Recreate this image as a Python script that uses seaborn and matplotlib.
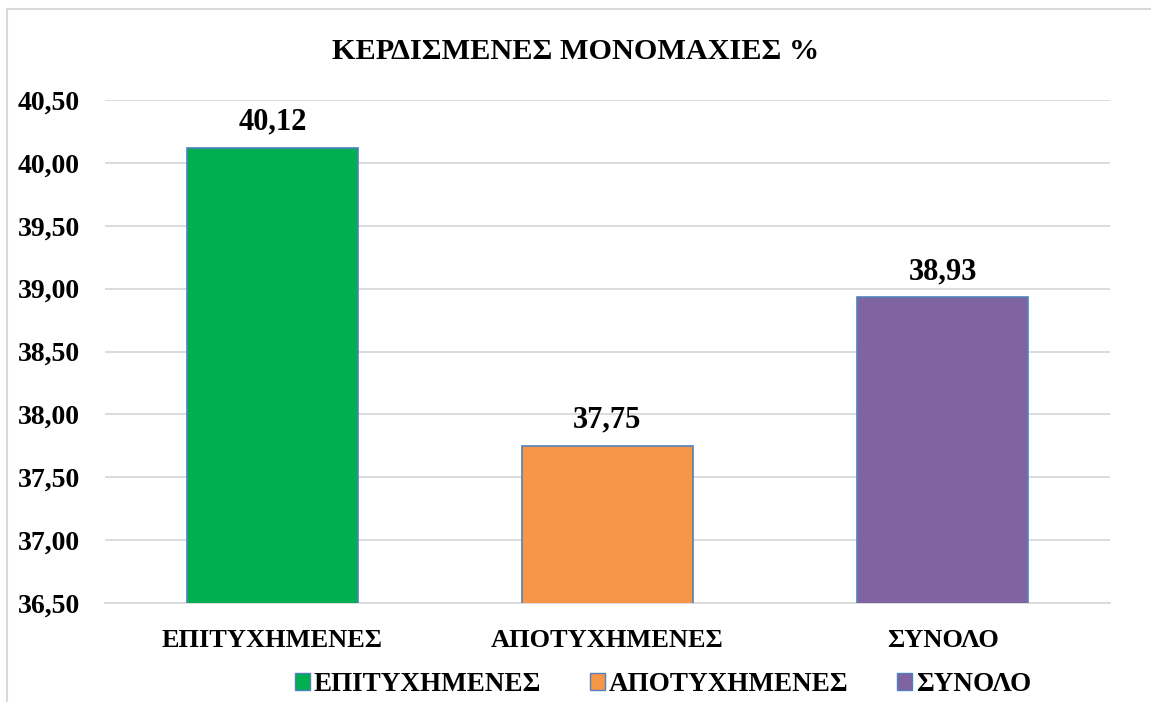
import seaborn as sns
import matplotlib.pyplot as plt
import matplotlib.patches as mpatches
import pandas as pd

categories = ['ΕΠΙΤΥΧΗΜΕΝΕΣ', 'ΑΠΟΤΥΧΗΜΕΝΕΣ', 'ΣΥΝΟΛΟ']
values = [40.12, 37.75, 38.93]
colors = ['#00B050', '#F79646', '#8064A2']
y_ticks = [36.5, 37.0, 37.5, 38.0, 38.5, 39.0, 39.5, 40.0, 40.5]

df = pd.DataFrame({'cat': categories, 'val': values})

sns.set_style('white')
plt.rcParams['font.family'] = ['Liberation Serif', 'DejaVu Serif']
plt.rcParams['font.weight'] = 'bold'
plt.rcParams['text.color'] = 'black'
plt.rcParams['xtick.color'] = 'black'
plt.rcParams['ytick.color'] = 'black'


def fmt(v):
    return f'{v:.2f}'.replace('.', ',')


fig = plt.figure(figsize=(11.51, 7.02), dpi=100)
ax = fig.add_axes([0.0912, 0.141, 0.8732, 0.7165])

sns.barplot(data=df, x='cat', y='val', hue='cat', palette=colors,
            saturation=1, width=0.51, edgecolor='#4F81BD', linewidth=1.2,
            legend=False, ax=ax, zorder=3)

ax.set_ylim(36.5, 40.5)
ax.set_xlim(-0.5, 2.5)
ax.set_yticks(y_ticks)
ax.set_yticklabels([fmt(t) for t in y_ticks], fontsize=20, fontweight='bold')
ax.set_xticks(range(len(categories)))
ax.set_xticklabels(categories, fontsize=19, fontweight='bold')
ax.tick_params(axis='x', length=0, pad=19)
ax.tick_params(axis='y', length=0, pad=18)
ax.set_xlabel('')
ax.set_ylabel('')
ax.yaxis.grid(True, color='#D9D9D9', linewidth=1.3, zorder=0)
ax.set_axisbelow(True)
for s in ['top', 'right', 'left']:
    ax.spines[s].set_visible(False)
ax.spines['bottom'].set_color('#D9D9D9')
ax.spines['bottom'].set_linewidth(1.3)

for i, v in enumerate(values):
    ax.text(i, v + 0.09, fmt(v), ha='center', va='bottom',
            fontsize=22, fontweight='bold')

fig.text(0.5, 0.926, 'ΚΕΡΔΙΣΜΕΝΕΣ ΜΟΝΟΜΑΧΙΕΣ %', ha='center', va='center',
         fontsize=21.8, fontweight='bold')

handles = [mpatches.Patch(facecolor=c, edgecolor='#4F81BD', linewidth=1)
           for c in colors]
fig.legend(handles, categories, loc='center', bbox_to_anchor=(0.576, 0.025),
           ncol=3, frameon=False, fontsize=19.5, handlelength=0.55,
           handleheight=0.55, handletextpad=0.15, columnspacing=1.8)

# outer chart frame
frame = mpatches.Rectangle((7 / 1151, -0.05), 1.1, 1 - 9 / 702 + 0.05,
                           transform=fig.transFigure, fill=False,
                           edgecolor='#D9D9D9', linewidth=1.5)
fig.patches.append(frame)

fig.savefig('out.png', dpi=100)
